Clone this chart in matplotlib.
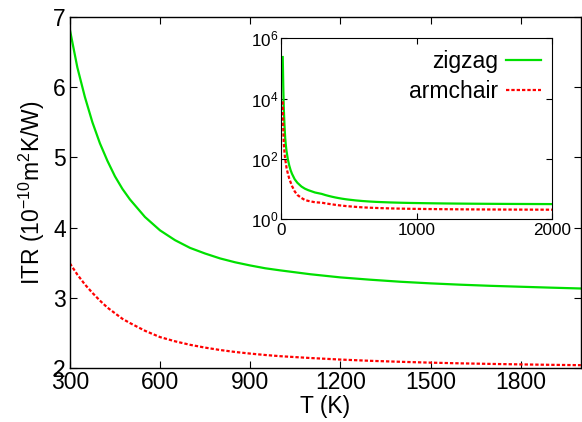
import numpy as np
import matplotlib
matplotlib.use("Agg")
import matplotlib.pyplot as plt

plt.rcParams['font.family'] = ['Liberation Sans', 'DejaVu Sans']
plt.rcParams['mathtext.fontset'] = 'custom'
plt.rcParams['mathtext.rm'] = 'Liberation Sans'
plt.rcParams['mathtext.it'] = 'Liberation Sans'

# --- data ---
T_main = [300, 325, 350, 375, 400, 425, 450, 475, 500, 550, 600, 650, 700,
          750, 800, 850, 900, 950, 1000, 1100, 1200, 1300, 1400, 1500,
          1600, 1700, 1800, 1900, 2000]
zigzag_main = [6.82, 6.28, 5.86, 5.50, 5.20, 4.95, 4.73, 4.55, 4.40, 4.15,
               3.96, 3.82, 3.71, 3.63, 3.56, 3.505, 3.46, 3.42, 3.39, 3.335,
               3.29, 3.257, 3.228, 3.205, 3.186, 3.17, 3.157, 3.144, 3.132]
armchair_main = [3.49, 3.33, 3.19, 3.07, 2.96, 2.86, 2.78, 2.70, 2.64, 2.53,
                 2.44, 2.38, 2.33, 2.29, 2.256, 2.228, 2.205, 2.185, 2.168,
                 2.142, 2.12, 2.102, 2.088, 2.076, 2.066, 2.058, 2.051,
                 2.045, 2.04]

# low temperature part, only shown in the inset
T_low = [12, 14, 16, 18, 20, 25, 30, 35, 40, 50, 60, 70, 80, 100, 120, 150,
         175, 200, 250]
zigzag_low = [2.4e5, 8e4, 2.5e4, 1e4, 4.5e3, 1.25e3, 500, 280, 180, 95, 60,
              42, 32, 21, 16, 12, 10.2, 9.1, 7.6]
armchair_low = [8100, 2500, 1000, 500, 316, 158, 100, 71, 50, 32, 22, 16.6,
                12.6, 8.3, 6.3, 5.0, 4.3, 4.0, 3.6]

main_xticks = [300, 600, 900, 1200, 1500, 1800]
main_yticks = [2, 3, 4, 5, 6, 7]
inset_xticks = [0, 1000, 2000]
inset_yticks = [1e0, 1e2, 1e4, 1e6]

GREEN = '#00e000'
RED = '#ff0000'
DASH = (0, (1.5, 0.9))

fig = plt.figure(figsize=(5.82, 4.22), dpi=100)
ax = fig.add_axes([0.120, 0.128, 0.878, 0.832])

ax.plot(T_main, zigzag_main, color=GREEN, lw=1.6)
ax.plot(T_main, armchair_main, color=RED, lw=1.6, ls=DASH)
ax.set_xlim(300, 2000)
ax.set_ylim(2, 7)
ax.set_xticks(main_xticks)
ax.set_yticks(main_yticks)
ax.tick_params(direction='in', top=True, right=True, labelsize=16.5,
               length=5, width=0.8, pad=3)
ax.tick_params(axis='x', pad=2)
ax.set_xlabel('T (K)', fontsize=16.5, labelpad=1)
ax.set_ylabel('ITR (10$^{-10}$m$^2$K/W)', fontsize=16.5, labelpad=4)
for s in ax.spines.values():
    s.set_linewidth(1.0)

# --- inset ---
ins = fig.add_axes([0.483, 0.481, 0.466, 0.428])
T_all = T_low + T_main
ins.plot(T_all, zigzag_low + zigzag_main, color=GREEN, lw=1.6, label='zigzag')
ins.plot(T_all, armchair_low + armchair_main, color=RED, lw=1.6, ls=DASH,
         label='armchair')
ins.set_yscale('log')
ins.set_xlim(0, 2000)
ins.set_ylim(1, 1e6)
ins.set_xticks(inset_xticks)
ins.set_yticks(inset_yticks)
ins.minorticks_off()
ins.tick_params(direction='in', top=True, right=True, labelsize=12.3,
                length=4, width=0.8, pad=2)
ins.tick_params(axis='x', pad=3)
ins.legend(loc='upper right', frameon=False, markerfirst=False, fontsize=16.5,
           handlelength=1.5, handletextpad=0.35, labelspacing=0.3,
           borderpad=0.1, borderaxespad=0.4)

fig.savefig('out.png', dpi=100)
